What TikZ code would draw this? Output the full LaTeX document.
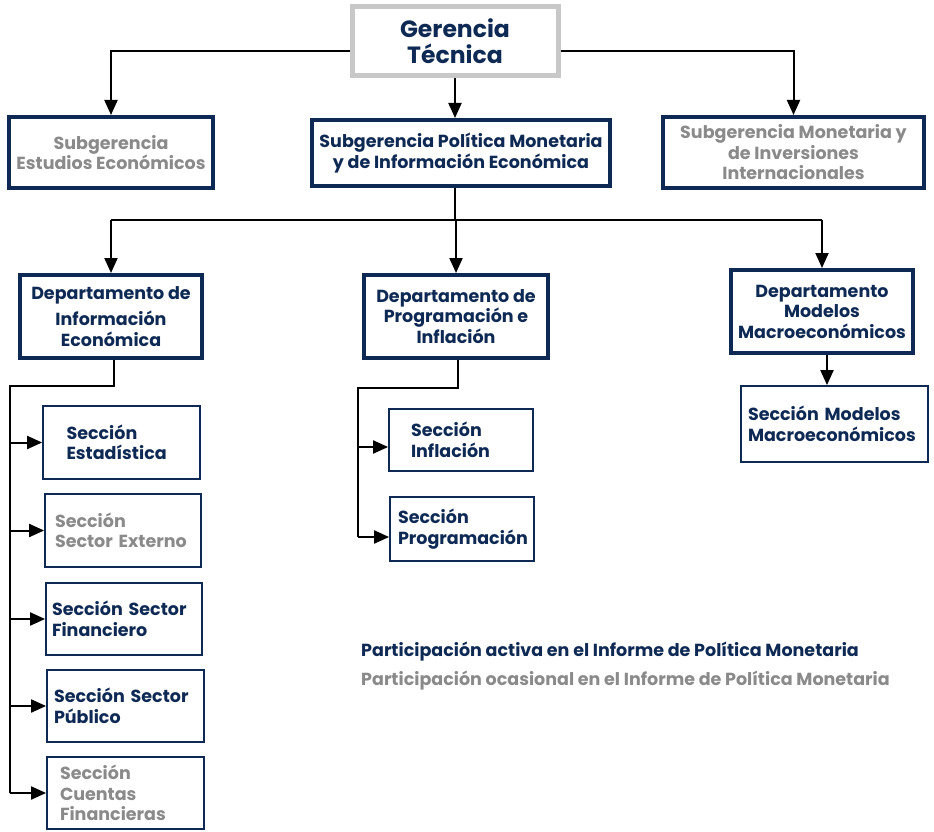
\documentclass[tikz,border=0pt]{standalone}
\usepackage{fontspec}
\setmainfont{Poppins}
\usetikzlibrary{arrows.meta}
\definecolor{navy}{RGB}{14,42,84}
\definecolor{txtgray}{RGB}{138,138,138}
\definecolor{boxgray}{RGB}{200,200,200}
\tikzset{
  base/.style={draw=navy, fill=white, font=\bfseries\fontsize{17.5}{20.5}\selectfont, text=navy, inner ysep=0pt},
  topbox/.style={base, draw=boxgray, line width=5pt, font=\bfseries\fontsize{23.5}{26}\selectfont, align=center},
  subbox/.style={base, line width=4pt, align=center},
  deptbox/.style={base, line width=4pt, align=center},
  secbox/.style={base, line width=1.8pt, align=left},
  faded/.style={text=txtgray},
  arr/.style={line width=2pt, -{Triangle[length=15pt,width=13pt]}},
  ln/.style={line width=2pt},
  legend/.style={font=\bfseries\fontsize{17.5}{20}\selectfont, anchor=base west, inner sep=0pt}
}
\begin{document}
\begin{tikzpicture}[x=1pt,y=-1pt]
\useasboundingbox (0,0) rectangle (934,832);
% top
\node[topbox, minimum width=206pt, minimum height=69pt] (ger) at (455,41.5) {Gerencia\\Técnica};
\node[subbox, faded, minimum width=204pt, minimum height=71pt] (sub1) at (111,152.5) {Subgerencia\\Estudios Económicos};
\node[subbox, minimum width=298pt, minimum height=66pt] (sub2) at (461,153) {Subgerencia Política Monetaria\\y de Información Económica};
\node[subbox, faded, minimum width=261pt, minimum height=71pt] (sub3) at (793.5,152.5) {Subgerencia Monetaria y\\de Inversiones\\Internacionales};
% departments
\node[deptbox, minimum width=182pt, minimum height=83pt] (d1) at (111,316.5) {Departamento de\\[6pt]Información\\Económica};
\node[deptbox, minimum width=184pt, minimum height=83pt] (d2) at (456,316.5) {Departamento de\\Programación e\\Inflación};
\node[deptbox, minimum width=182pt, minimum height=83pt] (d3) at (822,311.5) {Departamento\\Modelos\\Macroeconómicos};
% sections
\node[secbox, text width=110pt, inner xsep=23.5pt, minimum height=73pt] (s1) at (121.5,442.5) {Sección\\Estadística};
\node[secbox, faded, text width=136pt, inner xsep=10pt, minimum height=73pt] (s2) at (123,530.5) {Sección\\Sector Externo};
\node[secbox, text width=144pt, inner xsep=6pt, minimum height=72pt] (s3) at (124,619) {Sección Sector\\Financiero};
\node[secbox, text width=143pt, inner xsep=7pt, minimum height=72pt] (s4) at (125.5,706) {Sección Sector\\Público};
\node[secbox, faded, text width=131pt, inner xsep=13pt, minimum height=72pt] (s5) at (125.5,793) {Sección\\Cuentas\\Financieras};
\node[secbox, text width=100pt, inner xsep=22pt, minimum height=62pt] (s6) at (461,440) {Sección\\Inflación};
\node[secbox, text width=128pt, inner xsep=8pt, minimum height=64pt] (s7) at (462,529) {Sección\\Programación};
\node[secbox, text width=173pt, inner xsep=7pt, minimum height=76pt] (s8) at (834.5,424) {Sección Modelos\\Macroeconómicos};
% connectors top
\draw[arr] ([yshift=-10pt]ger.west) -| (sub1.north);
\draw[arr] ([yshift=-10pt]ger.east) -| (sub3.north);
\draw[arr] (ger.south) -- (ger.south |- sub2.north);
% connectors to departments
\coordinate (bus) at (455,220);
\draw[ln] (bus |- sub2.south) -- (bus);
\draw[ln] (d1.north |- bus) -- (d3.north |- bus);
\draw[arr] (d1.north |- bus) -- (d1.north);
\draw[arr] (d2.north |- bus) -- (d2.north);
\draw[arr] (d3.north |- bus) -- (d3.north);
% dept 1 spine
\coordinate (sp1) at (10,386);
\draw[ln] ([xshift=3pt]d1.south) |- (sp1) -- (sp1 |- s5.west);
\foreach \s in {s1,s2,s3,s4,s5} \draw[arr] (sp1 |- \s.west) -- (\s.west);
% dept 2 spine
\coordinate (sp2) at (358,388);
\draw[ln] ([xshift=2pt]d2.south) |- (sp2) -- (sp2 |- 0,537);
\draw[arr] (sp2 |- 0,447) -- (s6.west |- 0,447);
\draw[arr] (sp2 |- 0,537) -- (s7.west |- 0,537);
% dept 3
\draw[arr] ([xshift=5pt]d3.south) -- ([xshift=5pt]d3.south |- s8.north);
% legend
\node[legend, text=navy] (l1) at (361,656) {Participación activa en el Informe de Política Monetaria};
\node[legend, text=txtgray] (l2) at (361,685) {Participación ocasional en el Informe de Política Monetaria};
\end{tikzpicture}
\end{document}
